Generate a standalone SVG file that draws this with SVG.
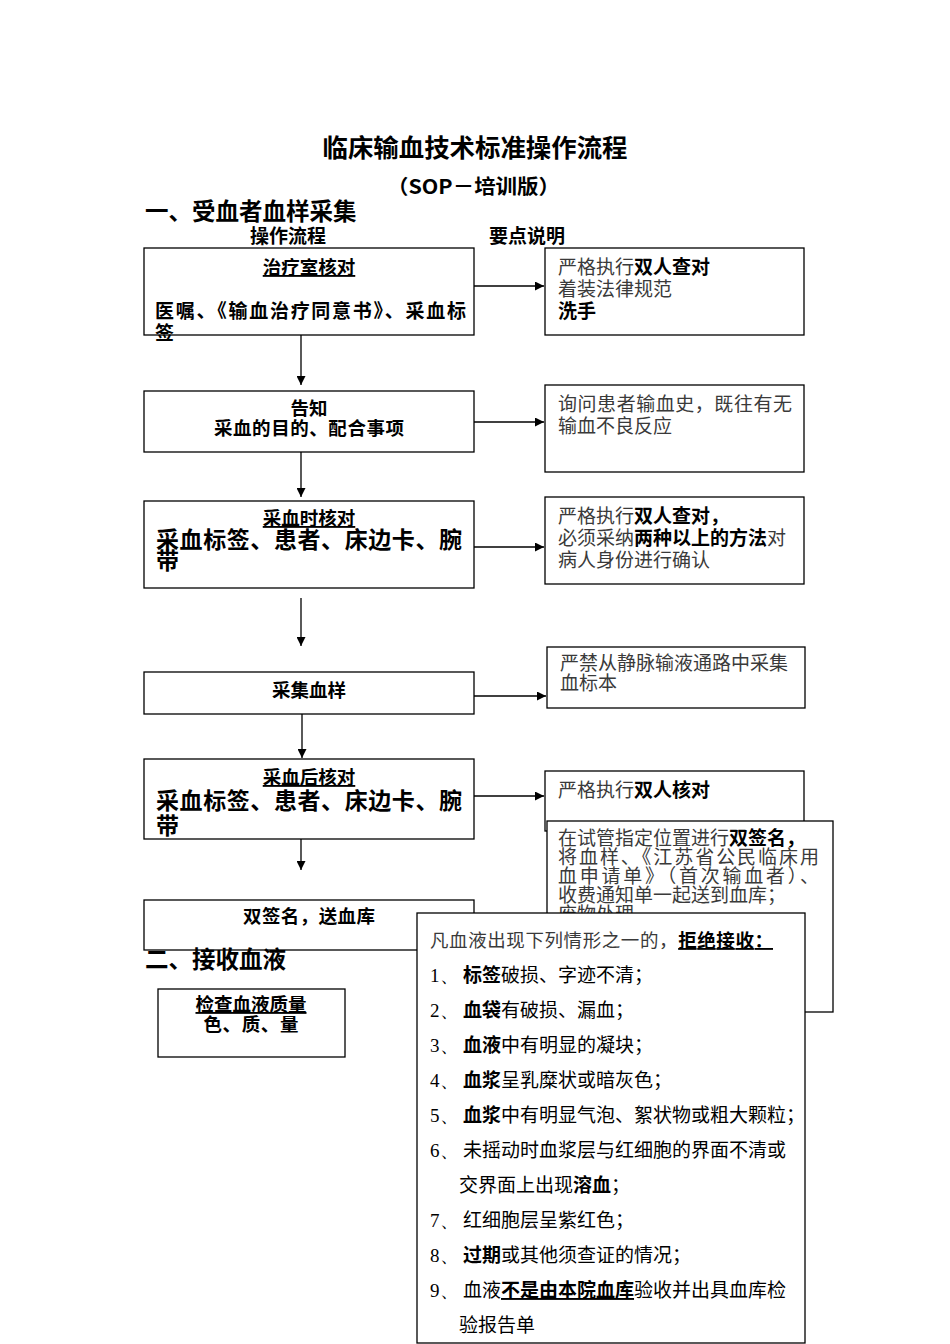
<svg xmlns="http://www.w3.org/2000/svg" width="950" height="1344" viewBox="0 0 950 1344">
<style>
text{font-family:"Noto Sans CJK SC","Noto Sans",sans-serif;fill:#000}
.b{font-weight:bold}
.g{fill:#3a3a3a}
.u{text-decoration:underline}
.box{fill:#fff;stroke:#000;stroke-width:1.3}
.c{text-anchor:middle}
.t19{font-size:19px}
.t18{font-size:18.5px}
.t23{font-size:23px}
.ln{stroke:#000;stroke-width:1.3;fill:none}
</style>
<defs>
<marker id="ah" viewBox="0 0 10 10" refX="10" refY="5" markerWidth="9" markerHeight="9" markerUnits="userSpaceOnUse" orient="auto">
<path d="M0,0 L10,5 L0,10 z" fill="#000"/>
</marker>
</defs>
<rect width="950" height="1344" fill="#fff"/>
<g id="headings">
<text x="475" y="157" class="c b" font-size="25" textLength="305" lengthAdjust="spacingAndGlyphs">临床输血技术标准操作流程</text>
<text x="387" y="194" class="b" font-size="20" textLength="173" lengthAdjust="spacingAndGlyphs">（SOP－培训版）</text>
<text x="145" y="220" class="b" font-size="23.5">一、受血者血样采集</text>
<text x="288" y="243" class="c b t19">操作流程</text>
<text x="527" y="243" class="c b t19">要点说明</text>
</g>
<g id="connectors">
<line x1="474" y1="286" x2="544" y2="286" class="ln" marker-end="url(#ah)"/>
<line x1="301" y1="335" x2="301" y2="385" class="ln" marker-end="url(#ah)"/>
<line x1="474" y1="422" x2="544" y2="422" class="ln" marker-end="url(#ah)"/>
<line x1="301" y1="452" x2="301" y2="497" class="ln" marker-end="url(#ah)"/>
<line x1="474" y1="547" x2="544" y2="547" class="ln" marker-end="url(#ah)"/>
<line x1="301" y1="598" x2="301" y2="646" class="ln" marker-end="url(#ah)"/>
<line x1="474" y1="696" x2="546" y2="696" class="ln" marker-end="url(#ah)"/>
<line x1="302" y1="714" x2="302" y2="758" class="ln" marker-end="url(#ah)"/>
<line x1="474" y1="796" x2="544" y2="796" class="ln" marker-end="url(#ah)"/>
<line x1="301" y1="820" x2="301" y2="870" class="ln" marker-end="url(#ah)"/>
</g>
<g id="n1">
<rect x="144" y="248" width="330" height="87" class="box"/>
<text x="309" y="274" class="c t18 b u">治疗室核对</text>
<text x="155" y="318" class="t19 b" textLength="311" lengthAdjust="spacing">医嘱、《输血治疗同意书》、采血标</text>
<text x="155" y="340" class="t19 b">签</text>
</g>
<g id="r1">
<rect x="545" y="248" width="259" height="87" class="box"/>
<text x="558" y="274" class="t19 g">严格执行<tspan class="b" fill="#000">双人查对</tspan></text>
<text x="558" y="296" class="t19 g">着装法律规范</text>
<text x="558" y="318" class="t19 b">洗手</text>
</g>
<g id="n2">
<rect x="144" y="391" width="330" height="61" class="box"/>
<text x="309" y="415" class="c t18 b">告知</text>
<text x="309" y="435" class="c t18 b" textLength="190" lengthAdjust="spacing">采血的目的、配合事项</text>
</g>
<g id="r2">
<rect x="545" y="385" width="259" height="87" class="box"/>
<text x="558" y="411" class="t19 g" textLength="234" lengthAdjust="spacing">询问患者输血史，既往有无</text>
<text x="558" y="433" class="t19 g">输血不良反应</text>
</g>
<g id="n3">
<rect x="144" y="501" width="330" height="87" class="box"/>
<text x="309" y="525" class="c t18 b u">采血时核对</text>
<text x="156" y="548" class="t23 b" textLength="306" lengthAdjust="spacing">采血标签、患者、床边卡、腕</text>
<text x="156" y="569" class="t23 b">带</text>
</g>
<g id="r3">
<rect x="545" y="497" width="259" height="87" class="box"/>
<text x="558" y="523" class="t19 g">严格执行<tspan class="b" fill="#000">双人查对，</tspan></text>
<text x="558" y="545" class="t19 g">必须采纳<tspan class="b" fill="#000">两种以上的方法</tspan>对</text>
<text x="558" y="567" class="t19 g">病人身份进行确认</text>
</g>
<g id="n4">
<rect x="144" y="672" width="330" height="42" class="box"/>
<text x="309" y="697" class="c t18 b">采集血样</text>
</g>
<g id="r4">
<rect x="547" y="647" width="258" height="61" class="box"/>
<text x="560" y="670" class="t19 g">严禁从静脉输液通路中采集</text>
<text x="560" y="690" class="t19 g">血标本</text>
</g>
<g id="n5">
<rect x="144" y="759" width="330" height="80" class="box"/>
<text x="309" y="784" class="c t18 b u">采血后核对</text>
<text x="156" y="809" class="t23 b" textLength="306" lengthAdjust="spacing">采血标签、患者、床边卡、腕</text>
<text x="156" y="834" class="t23 b">带</text>
</g>
<g id="r5">
<rect x="545" y="771" width="259" height="60" class="box"/>
<text x="558" y="797" class="t19 g">严格执行<tspan class="b" fill="#000">双人核对</tspan></text>
</g>
<g id="r6">
<rect x="547" y="821" width="286" height="191" class="box"/>
<text x="558" y="845" class="t19 g">在试管指定位置进行<tspan class="b" fill="#000">双签名，</tspan></text>
<text x="558" y="864" class="t19 g" textLength="261" lengthAdjust="spacing">将血样、《江苏省公民临床用</text>
<text x="558" y="883" class="t19 g" textLength="261" lengthAdjust="spacing">血申请单》（首次输血者）、</text>
<text x="558" y="902" class="t19 g" textLength="228" lengthAdjust="spacing">收费通知单一起送到血库；</text>
<text x="558" y="921" class="t19 g">废物处理</text>
</g>
<g id="n6">
<rect x="144" y="900" width="330" height="50" class="box"/>
<text x="309" y="923" class="c t18 b" textLength="132" lengthAdjust="spacing">双签名，送血库</text>
</g>
<g id="sec2">
<text x="145" y="968" class="b" font-size="23.5">二、接收血液</text>
</g>
<g id="n7">
<rect x="158" y="989" width="187" height="68" class="box"/>
<text x="251" y="1011" class="c t18 b u">检查血液质量</text>
<text x="251" y="1031" class="c t18 b" textLength="95" lengthAdjust="spacing">色、质、量</text>
</g>
<g id="reject">
<rect x="417" y="913" width="388" height="430" class="box"/>
<text x="430" y="947" class="t18 g" textLength="343" lengthAdjust="spacing">凡血液出现下列情形之一的，<tspan class="b u" fill="#000">拒绝接收：</tspan></text>
<g class="t19 g">
<text x="430" y="982"><tspan font-family="Liberation Serif">1、</tspan><tspan x="463" class="b" fill="#000">标签</tspan>破损、字迹不清；</text>
<text x="430" y="1017"><tspan font-family="Liberation Serif">2、</tspan><tspan x="463" class="b" fill="#000">血袋</tspan>有破损、漏血；</text>
<text x="430" y="1052"><tspan font-family="Liberation Serif">3、</tspan><tspan x="463" class="b" fill="#000">血液</tspan>中有明显的凝块；</text>
<text x="430" y="1087"><tspan font-family="Liberation Serif">4、</tspan><tspan x="463" class="b" fill="#000">血浆</tspan>呈乳糜状或暗灰色；</text>
<text x="430" y="1122"><tspan font-family="Liberation Serif">5、</tspan><tspan x="463" class="b" fill="#000">血浆</tspan>中有明显气泡、絮状物或粗大颗粒；</text>
<text x="430" y="1157"><tspan font-family="Liberation Serif">6、</tspan><tspan x="463">未摇动时血浆层与红细胞的界面不清或</tspan></text>
<text x="459" y="1192">交界面上出现<tspan class="b" fill="#000">溶血</tspan>；</text>
<text x="430" y="1227"><tspan font-family="Liberation Serif">7、</tspan><tspan x="463">红细胞层呈紫红色；</tspan></text>
<text x="430" y="1262"><tspan font-family="Liberation Serif">8、</tspan><tspan x="463" class="b" fill="#000">过期</tspan>或其他须查证的情况；</text>
<text x="430" y="1297"><tspan font-family="Liberation Serif">9、</tspan><tspan x="463">血液</tspan><tspan class="b u" fill="#000">不是由本院血库</tspan>验收并出具血库检</text>
<text x="459" y="1332">验报告单</text>
</g>
</g>
</svg>
